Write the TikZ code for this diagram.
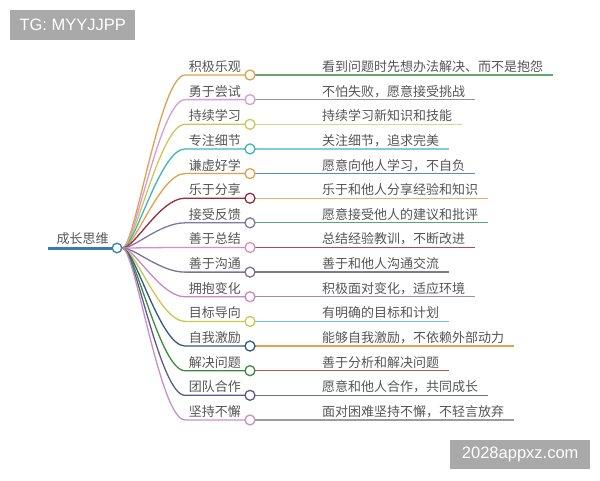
\documentclass[tikz,border=0pt]{standalone}
\usepackage{fontspec}
\setmainfont{Liberation Sans}
\newfontfamily\cjk{Noto Sans CJK SC}
\definecolor{txt}{HTML}{555555}
\definecolor{wmgray}{HTML}{A9A9A9}
\definecolor{rootc}{HTML}{3A7CA8}
\definecolor{c1}{HTML}{E0A050}
\definecolor{c2}{HTML}{D89AD8}
\definecolor{c3}{HTML}{C8C85A}
\definecolor{c4}{HTML}{40B4BC}
\definecolor{c5}{HTML}{E0A050}
\definecolor{c6}{HTML}{9A2A3A}
\definecolor{c7}{HTML}{7C78A8}
\definecolor{c8}{HTML}{D88CC8}
\definecolor{c9}{HTML}{7E7290}
\definecolor{c10}{HTML}{C888C8}
\definecolor{c11}{HTML}{C8C850}
\definecolor{c12}{HTML}{2E5A80}
\definecolor{c13}{HTML}{3C8C3C}
\definecolor{c14}{HTML}{5A5C88}
\definecolor{c15}{HTML}{C890C8}
\definecolor{d1}{HTML}{60A870}
\definecolor{d2}{HTML}{8C96A8}
\definecolor{d3}{HTML}{D8D890}
\definecolor{d4}{HTML}{80CCD8}
\definecolor{d5}{HTML}{5890B0}
\definecolor{d6}{HTML}{E8B068}
\definecolor{d7}{HTML}{58A878}
\definecolor{d8}{HTML}{B04858}
\definecolor{d9}{HTML}{7C7C8C}
\definecolor{d10}{HTML}{A090A0}
\definecolor{d11}{HTML}{70C8E0}
\definecolor{d12}{HTML}{E8A050}
\definecolor{d13}{HTML}{B05858}
\definecolor{d14}{HTML}{6C7480}
\definecolor{d15}{HTML}{9C9C9C}
\begin{document}
\begin{tikzpicture}[x=1pt,y=-1pt,
  dot/.style={circle, draw, fill=white, line width=1.3pt, minimum size=10pt, inner sep=0pt},
  rootdot/.style={circle, draw=rootc, fill=white, line width=1.3pt, minimum size=9.5pt, inner sep=0pt},
  lab/.style={font=\cjk\fontsize{13}{13}\selectfont, text=txt, inner sep=0pt},
  conn/.style={line width=1.3pt},
  wm/.style={fill=wmgray, text=white, inner sep=0pt, font=\fontsize{16.5}{16.5}\selectfont}]
\useasboundingbox (0,0) rectangle (600,480);
\node[wm, minimum width=125pt, minimum height=30pt, anchor=north west] (wm1) at (10,10) {TG: MYYJJPP};
\node[wm, minimum width=140pt, minimum height=29pt, anchor=north west] (wm2) at (450,440) {2028appxz.com};
\node[rootdot] (root) at (117,248) {};
\coordinate (rstart) at (48,248);
\draw[line width=3pt, rootc] (rstart) -- (root.west);
\node[lab, anchor=base] (rl) at (82.5,243.5) {成长思维};
\foreach \i/\la/\ca/\lb/\cb in {
 1/积极乐观/c1/看到问题时先想办法解决、而不是抱怨/d1,
 2/勇于尝试/c2/不怕失败，愿意接受挑战/d2,
 3/持续学习/c3/持续学习新知识和技能/d3,
 4/专注细节/c4/关注细节，追求完美/d4,
 5/谦虚好学/c5/愿意向他人学习，不自负/d5,
 6/乐于分享/c6/乐于和他人分享经验和知识/d6,
 7/接受反馈/c7/愿意接受他人的建议和批评/d7,
 8/善于总结/c8/总结经验教训，不断改进/d8,
 9/善于沟通/c9/善于和他人沟通交流/d9,
 10/拥抱变化/c10/积极面对变化，适应环境/d10,
 11/目标导向/c11/有明确的目标和计划/d11,
 12/自我激励/c12/能够自我激励，不依赖外部动力/d12,
 13/解决问题/c13/善于分析和解决问题/d13,
 14/团队合作/c14/愿意和他人合作，共同成长/d14,
 15/坚持不懈/c15/面对困难坚持不懈，不轻言放弃/d15}{
 \pgfmathsetmacro\yy{75+(\i-1)*24.64}
 \node[lab, anchor=base east] (l\i) at (241,\yy-3.5) {\la};
 \node[lab, anchor=base west] (t\i) at (322,\yy-3.5) {\lb};
 \draw[conn, \ca] (root.east) .. controls (135,248) and (160,\yy) .. (185,\yy) -- (250,\yy);
 \draw[conn, \cb] (250,\yy) -- (t\i.east |- 250,\yy) -- ++(10,0);
 \node[dot, draw=\ca] (b\i) at (250,\yy) {};
}
\end{tikzpicture}
\end{document}
